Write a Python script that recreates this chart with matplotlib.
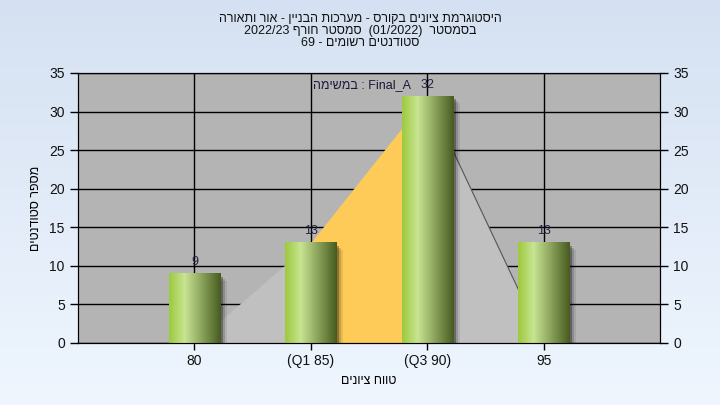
import re
import numpy as np
import matplotlib
matplotlib.use("Agg")
import matplotlib.pyplot as plt
import matplotlib.transforms as mtransforms
from matplotlib.patches import Rectangle

# ------------------ Data ------------------
categories = ["80", "(Q1 85)", "(Q3 90)", "95"]
counts = [9, 13, 32, 13]
# shape behind the bars (light gray area + quartile band)
area_values = [0, 13, 32, 0]
q1_idx, q3_idx = 1, 2

title_lines = [
    "היסטוגרמת ציונים בקורס - מערכות הבניין - אור ותאורה",
    "בסמסטר  (01/2022)  סמסטר חורף 2022/23",
    "סטודנטים רשומים - 69",
]
legend_text = "Final_A : במשימה"
xlabel = "טווח ציונים"
ylabel = "מספר סטודנטים"
yticks = [0, 5, 10, 15, 20, 25, 30, 35]

FONT = ["Liberation Sans", "DejaVu Sans"]
plt.rcParams["font.family"] = FONT


# matplotlib has no bidi support, so lay out RTL text by hand
def rtl(s):
    rev = s[::-1]
    rev = re.sub(r"[A-Za-z0-9_/.]+", lambda m: m.group(0)[::-1], rev)
    return rev.replace("(", "\0").replace(")", "(").replace("\0", ")")


fig = plt.figure(figsize=(7.2, 4.05), dpi=100)

# ------------------ Background gradient ------------------
bg = fig.add_axes([0, 0, 1, 1], zorder=-10)
top_c = np.array([213, 225, 242]) / 255
bot_c = np.array([239, 246, 254]) / 255
t = np.linspace(0, 1, 256)[:, None]
grad = top_c * (1 - t) + bot_c * t
bg.imshow(grad[:, None, :].repeat(2, axis=1), aspect="auto", extent=[0, 1, 0, 1])
bg.axis("off")

# ------------------ Main axes ------------------
ax = fig.add_axes([78 / 720, 62 / 405, 582 / 720, 270 / 405])
ax.set_facecolor("#b4b4b4")
x = np.arange(1, len(categories) + 1)

ax.set_xticks(x)
ax.set_yticks(yticks)
ax.grid(True, color="black", linewidth=1.0, zorder=0)
ax.set_axisbelow(True)

# area + quartile band
ax.fill_between(x, area_values, 0, color="#c0c0c0", linewidth=0, zorder=1)
ax.fill_between(x[q1_idx:q3_idx + 1], area_values[q1_idx:q3_idx + 1], 0,
                color="#fecb58", linewidth=0, zorder=1.5)
ax.plot(x[q3_idx:q3_idx + 2], area_values[q3_idx:q3_idx + 2],
        color="#555555", linewidth=0.8, zorder=1.6)

# gradient bars with shadow
w = 0.44
stops = np.array([0.0, 0.3, 1.0])
cols = np.array([[157, 202, 62], [200, 228, 146], [72, 92, 32]]) / 255
u = np.linspace(0, 1, 64)
bar_grad = np.stack([np.interp(u, stops, cols[:, k]) for k in range(3)], axis=-1)[None, :, :]

for xi, c in zip(x, counts):
    for off, a in [(7, 0.08), (5, 0.15), (3, 0.3)]:
        tr = mtransforms.offset_copy(ax.transData, fig=fig, x=off, y=-off, units="dots")
        ax.add_patch(Rectangle((xi - w / 2, 0), w, c, transform=tr,
                               facecolor="black", alpha=a, linewidth=0, zorder=2))
    ax.imshow(bar_grad, extent=[xi - w / 2, xi + w / 2, 0, c], aspect="auto",
              zorder=3, interpolation="bilinear")
    ax.annotate(str(c), (xi, c), xytext=(0, 4), textcoords="offset points",
                ha="center", va="bottom", fontsize=9, color="#222244",
                zorder=5)

ax.set_xlim(0, 5)
ax.set_ylim(0, 35)
ax.set_xticklabels(categories, fontsize=10, color="#111111")
ax.tick_params(axis="y", labelsize=10, labelcolor="#111111", length=6, width=1)
ax.tick_params(axis="x", length=5, width=1, pad=3)
for s in ax.spines.values():
    s.set_color("black")

ax2 = ax.twinx()
ax2.set_ylim(0, 35)
ax2.set_yticks(yticks)
ax2.tick_params(axis="y", labelsize=10, labelcolor="#111111", length=6, width=1)
for s in ax2.spines.values():
    s.set_color("black")

ax.text(0.572, 0.956, rtl(legend_text), transform=ax.transAxes, ha="right",
        va="center", fontsize=9, color="#1a1a3a", zorder=6)

ax.set_xlabel(rtl(xlabel), fontsize=9, labelpad=5)
ax.set_ylabel(rtl(ylabel), fontsize=9, labelpad=5)

fig.text(0.5, 0.967, "\n".join(rtl(s) for s in title_lines), ha="center", va="top",
         fontsize=9, linespacing=1.0, color="#111111")

fig.savefig("out.png", dpi=100)
